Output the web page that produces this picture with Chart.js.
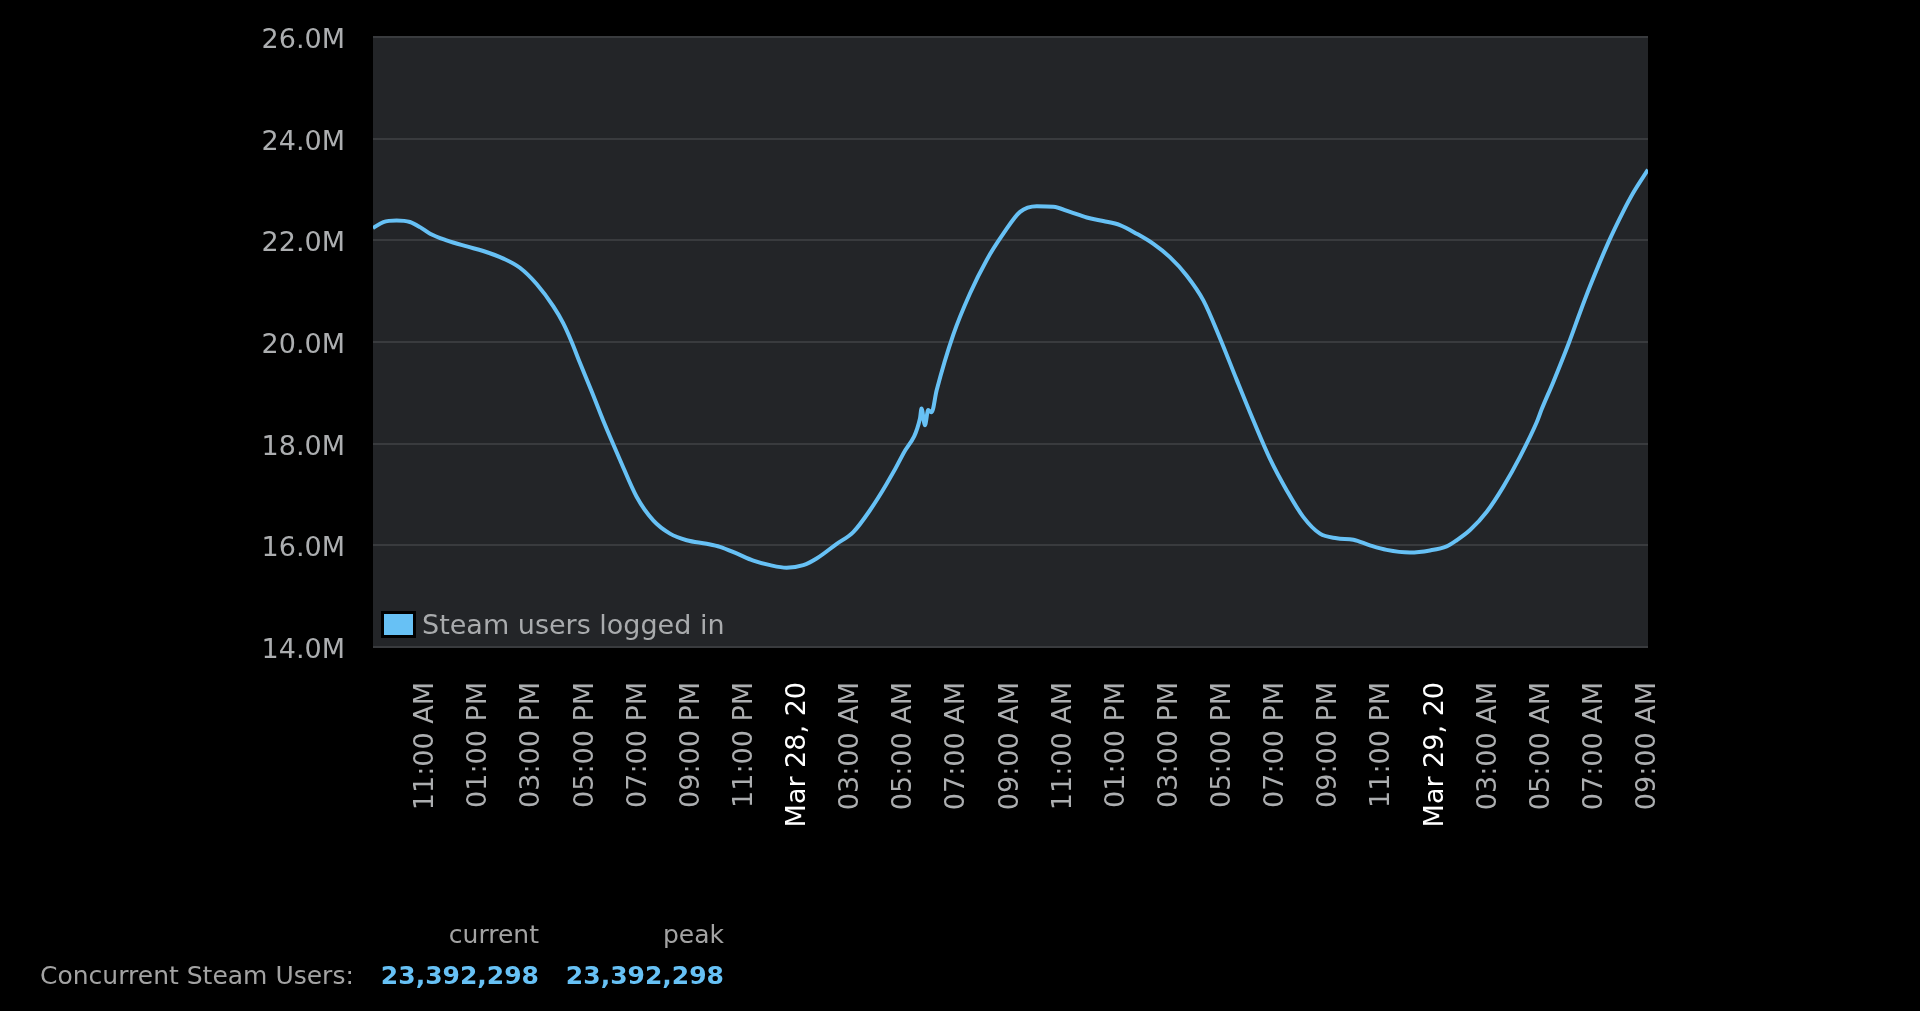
<!DOCTYPE html>
<html>
<head>
<meta charset="utf-8">
<script src="https://cdn.jsdelivr.net/npm/chart.js@4.4.1/dist/chart.umd.min.js"></script>
<style>
  html, body { margin:0; padding:0; background:#000; width:1920px; height:1011px; overflow:hidden; }
  #wrap { position:relative; width:1920px; height:1011px; }
  canvas { position:absolute; left:0; top:0; }
  .ft { position:absolute; font-family:"DejaVu Sans", sans-serif; font-size:25px; line-height:30px; white-space:nowrap; }
  .hdr { color:#a3a3a3; text-align:right; width:170px; }
  .lbl { color:#a3a3a3; }
  .val { color:#67c1f5; font-weight:bold; text-align:right; width:170px; }
</style>
</head>
<body>
<div id="wrap">
  <canvas id="c" width="1920" height="1011"></canvas>
  <div class="ft hdr" style="left:369px; top:920px;">current</div>
  <div class="ft hdr" style="left:554px; top:920px;">peak</div>
  <div class="ft lbl" style="left:40px; top:961px;">Concurrent Steam Users:</div>
  <div class="ft val" id="cur" style="left:369px; top:961px;"></div>
  <div class="ft val" id="peak" style="left:554px; top:961px;"></div>
</div>
<script>
// ---- data (hours since chart start, users in millions) ----
const seriesLabel = "Steam users logged in";
const hours = [
  0.00, 0.39, 0.89, 1.39, 1.77, 2.15, 2.77, 3.53, 4.15, 4.91,
  5.53, 6.16, 6.79, 7.16, 7.48, 7.79, 8.23, 8.67, 9.30, 9.93, 10.55,
  11.18, 11.81, 12.56, 13.06, 13.69, 14.32, 14.95, 15.57, 16.20, 16.70,
  17.46, 18.08, 18.71, 19.34, 19.96, 20.59, 20.65, 20.78, 20.90, 21.03,
  21.22, 21.85, 22.47, 23.10, 23.73, 24.36, 24.99, 25.61, 26.24, 26.87,
  27.49, 28.12, 28.75, 29.38, 30.00, 30.63, 31.26, 31.89, 32.52, 33.14,
  33.77, 34.40, 35.02, 35.65, 36.28, 36.91, 37.53, 38.16, 39.04, 39.79,
  40.42, 40.80, 41.30, 41.93, 42.55, 43.18, 43.81, 44.00, 44.44, 45.02,
  45.44, 45.82, 46.50, 47.07, 47.45, 48.00
];
const usersM = [
  22.24, 22.36, 22.39, 22.36, 22.26, 22.13, 22.00, 21.88, 21.79, 21.64,
  21.46, 21.14, 20.70, 20.37, 20.00, 19.59, 19.03, 18.45, 17.68, 16.95, 16.49,
  16.23, 16.10, 16.03, 15.97, 15.84, 15.70, 15.61, 15.56, 15.61, 15.74,
  16.03, 16.26, 16.69, 17.21, 17.80, 18.49, 18.69, 18.36, 18.66, 18.62,
  19.05, 20.15, 20.95, 21.61, 22.13, 22.56, 22.67, 22.66, 22.56, 22.45,
  22.38, 22.30, 22.13, 21.93, 21.67, 21.31, 20.82, 20.07, 19.25, 18.46,
  17.70, 17.08, 16.56, 16.23, 16.14, 16.11, 16.00, 15.91, 15.86, 15.90,
  15.98, 16.10, 16.30, 16.66, 17.15, 17.74, 18.42, 18.68, 19.22, 19.98,
  20.58, 21.10, 21.95, 22.57, 22.94, 23.39
];
const tickHours = [2,4,6,8,10,12,14,16,18,20,22,24,26,28,30,32,34,36,38,40,42,44,46,48];
const tickLabels = [
  "11:00 AM","01:00 PM","03:00 PM","05:00 PM","07:00 PM","09:00 PM","11:00 PM","Mar 28, 20",
  "03:00 AM","05:00 AM","07:00 AM","09:00 AM","11:00 AM","01:00 PM","03:00 PM","05:00 PM",
  "07:00 PM","09:00 PM","11:00 PM","Mar 29, 20","03:00 AM","05:00 AM","07:00 AM","09:00 AM"
];
const dateLabels = ["Mar 28, 20","Mar 29, 20"];
const yMin = 14, yMax = 26, yStep = 2;
const currentUsers = "23,392,298";
const peakUsers = "23,392,298";

document.getElementById('cur').textContent = currentUsers;
document.getElementById('peak').textContent = peakUsers;

const LINE = '#67c1f5';
const FONT = '"DejaVu Sans", sans-serif';

const bgPlugin = {
  id: 'plotBg',
  beforeDraw(chart) {
    const {ctx, chartArea:a} = chart;
    ctx.save();
    ctx.fillStyle = '#232528';
    ctx.fillRect(a.left, a.top, a.right - a.left, a.bottom - a.top);
    ctx.restore();
  }
};

const legendPlugin = {
  id: 'innerLegend',
  afterDraw(chart) {
    const {ctx, chartArea:a} = chart;
    const ds = chart.data.datasets[0];
    ctx.save();
    const bx = a.left + 8, by = a.bottom - 36, bw = 35, bh = 27;
    ctx.fillStyle = '#000';
    ctx.fillRect(bx, by, bw, bh);
    ctx.fillStyle = ds.borderColor;
    ctx.fillRect(bx + 3, by + 3, bw - 6, bh - 6);
    ctx.fillStyle = '#a9abad';
    ctx.font = '27px ' + FONT;
    ctx.textBaseline = 'middle';
    ctx.textAlign = 'left';
    ctx.fillText(ds.label, bx + bw + 6, by + bh / 2 + 2);
    ctx.restore();
  }
};

new Chart(document.getElementById('c'), {
  type: 'line',
  data: {
    datasets: [{
      label: seriesLabel,
      data: hours.map((h, i) => ({x: h, y: usersM[i]})),
      borderColor: LINE,
      backgroundColor: LINE,
      borderWidth: 4,
      pointRadius: 0,
      cubicInterpolationMode: 'monotone',
      fill: false
    }]
  },
  options: {
    responsive: false,
    devicePixelRatio: 1,
    animation: false,
    layout: { padding: { left: 0, right: 272, top: 37, bottom: 0 } },
    plugins: { legend: { display: false }, tooltip: { enabled: false } },
    scales: {
      x: {
        type: 'linear',
        min: 0, max: 48,
        afterBuildTicks(scale) { scale.ticks = tickHours.map(v => ({ value: v })); },
        afterFit(scale) { scale.height = 364; },
        grid: { display: false, drawTicks: false },
        border: { display: false },
        ticks: {
          autoSkip: false,
          minRotation: 90, maxRotation: 90,
          padding: 35,
          font: { family: FONT, size: 27 },
          color: (ctx) => (ctx.tick && dateLabels.includes(ctx.tick.label)) ? '#ffffff' : '#acaeb0',
          callback: (v) => { const i = tickHours.indexOf(v); return i >= 0 ? tickLabels[i] : ''; }
        }
      },
      y: {
        min: yMin, max: yMax,
        afterFit(scale) { scale.width = 373; },
        grid: { color: '#393b3e', lineWidth: 2, drawTicks: true, tickLength: 28, tickColor: 'rgba(0,0,0,0)' },
        border: { display: false },
        ticks: {
          stepSize: yStep,
          padding: 0,
          labelOffset: 4,
          font: { family: FONT, size: 27 },
          color: '#acaeb0',
          callback: (v) => v.toFixed(1) + 'M'
        }
      }
    }
  },
  plugins: [bgPlugin, legendPlugin]
});
</script>
</body>
</html>
